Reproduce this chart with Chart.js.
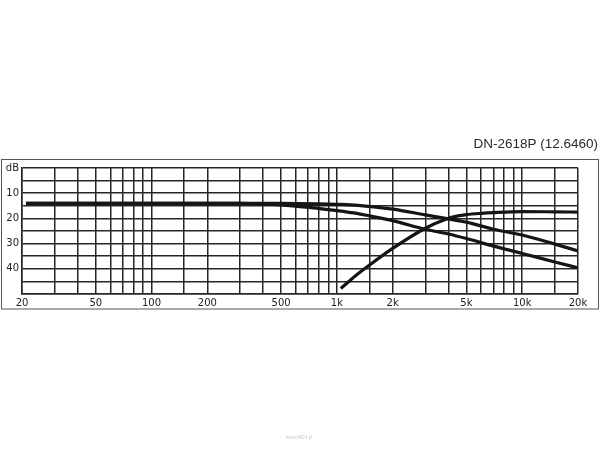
<!DOCTYPE html>
<html>
<head>
<meta charset="utf-8">
<script src="https://cdn.jsdelivr.net/npm/chart.js@4/dist/chart.umd.min.js"></script>
<style>
  html, body { margin: 0; padding: 0; background: #fff; }
  #wrap { position: relative; width: 600px; height: 450px; }
  canvas { display: block; }
</style>
</head>
<body>
<div id="wrap"><canvas id="c" width="600" height="450"></canvas></div>
<script>
// ---- data ----
const titleText = "DN-2618P (12.6460)";
const watermarkText = "www.hifi24.pl";

const gridFreqs = [20,30,40,50,60,70,80,90,100,150,200,300,400,500,600,700,800,900,
                   1000,1500,2000,3000,4000,5000,6000,7000,8000,9000,10000,15000,20000];
const labelFreqs = [20,50,100,200,500,1000,2000,5000,10000,20000];
const labelTexts = ["20","50","100","200","500","1k","2k","5k","10k","20k"];

const yMin = 0, yMax = 50, yStep = 5;
const yLabelValues = [0,10,20,30,40];
const yLabelTexts = ["dB","10","20","30","40"];

// curve A: upper low-pass curve
const curveAFreq = [21,100,300,500,800,1000,1300,2000,3000,4000,5000,7000,10000,15000,20000];
const curveADb   = [14,14,14,14,14.2,14.4,14.8,16.3,18.6,20.2,21.5,24.3,26.6,30.2,32.9];
// curve B: lower low-pass curve
const curveBFreq = [21,100,300,400,500,700,1000,1300,1500,2000,3000,4000,5000,7000,10000,15000,20000];
const curveBDb   = [14,14,14,14.2,14.6,15.6,16.9,18.1,19,20.9,24.3,26.2,28,31,33.9,37.3,39.6];
// curve C: high-pass curve
const curveCFreq = [1050,1300,1500,2000,3000,3900,4500,5000,6000,7000,10000,15000,20000];
const curveCDb   = [47.8,42,38.5,31.9,23.9,20.2,19,18.5,18,17.7,17.3,17.4,17.5];

function pts(fs, ds){ return fs.map((f,i)=>({x:f, y:ds[i]})); }

const lineColor = '#151515';
const gridColor = '#262626';

const framePlugin = {
  id: 'framePlugin',
  afterDraw(chart) {
    const ctx = chart.ctx;
    ctx.save();
    ctx.strokeStyle = '#555';
    ctx.lineWidth = 1;
    ctx.strokeRect(1.5, 159.5, 597, 149.5);
    ctx.fillStyle = '#2a2a2a';
    ctx.font = '13.5px "Liberation Sans", Arial, sans-serif';
    ctx.textAlign = 'right';
    ctx.textBaseline = 'middle';
    ctx.fillText(titleText, 598, 144);
    ctx.fillStyle = '#c8c8c8';
    ctx.font = '4.5px "Liberation Sans", Arial, sans-serif';
    ctx.textAlign = 'center';
    ctx.fillText(watermarkText, 299, 438);
    ctx.restore();
  }
};

const dsCommon = {
  borderColor: lineColor,
  borderWidth: 3.2,
  pointRadius: 0,
  fill: false,
  cubicInterpolationMode: 'monotone',
  borderCapStyle: 'butt'
};

new Chart(document.getElementById('c'), {
  type: 'line',
  data: {
    datasets: [
      Object.assign({ label: 'A', data: pts(curveAFreq, curveADb) }, dsCommon),
      Object.assign({ label: 'B', data: pts(curveBFreq, curveBDb) }, dsCommon),
      Object.assign({ label: 'C', data: pts(curveCFreq, curveCDb) }, dsCommon)
    ]
  },
  options: {
    responsive: false,
    animation: false,
    devicePixelRatio: 1,
    layout: { padding: { left: 0, top: 168, right: 22, bottom: 140 } },
    plugins: { legend: { display: false }, title: { display: false }, tooltip: { enabled: false } },
    scales: {
      x: {
        type: 'logarithmic',
        min: 20, max: 20000,
        afterBuildTicks(scale) { scale.ticks = gridFreqs.map(v => ({ value: v })); },
        afterFit(scale) { scale.height = 16; },
        grid: { color: gridColor, lineWidth: 1.5, drawTicks: false },
        border: { color: gridColor, width: 1.5 },
        ticks: {
          autoSkip: false, maxRotation: 0, minRotation: 0, padding: 3,
          color: '#222',
          font: { family: '"DejaVu Sans", Verdana, sans-serif', size: 10 },
          callback(value) {
            const i = labelFreqs.indexOf(Math.round(value));
            return i >= 0 ? labelTexts[i] : '';
          }
        }
      },
      y: {
        type: 'linear',
        reverse: true,
        min: yMin, max: yMax,
        afterFit(scale) { scale.width = 22; },
        grid: { color: gridColor, lineWidth: 1.5, drawTicks: false },
        border: { color: gridColor, width: 1.5 },
        ticks: {
          stepSize: yStep, padding: 3, autoSkip: false,
          color: '#222',
          font: { family: '"DejaVu Sans", Verdana, sans-serif', size: 10 },
          callback(value) {
            const i = yLabelValues.indexOf(value);
            return i >= 0 ? yLabelTexts[i] : '';
          }
        }
      }
    }
  },
  plugins: [framePlugin]
});
</script>
</body>
</html>
